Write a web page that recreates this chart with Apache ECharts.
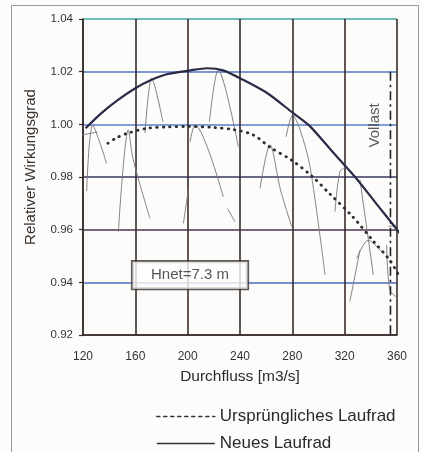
<!DOCTYPE html>
<html>
<head>
<meta charset="utf-8">
<script src="https://cdn.jsdelivr.net/npm/echarts@6/dist/echarts.min.js"></script>
<style>
html,body{margin:0;padding:0;background:#fcfcfa;}
#c{width:422px;height:452px;}
</style>
</head>
<body>
<div id="c"></div>
<script>
// ---- data ----
const xTicks = [120, 160, 200, 240, 280, 320, 360];
const yTicks = [0.92, 0.94, 0.96, 0.98, 1.00, 1.02, 1.04];

// Neues Laufrad (solid)
const neuQ   = [122, 133, 146, 160, 172, 184, 202, 215, 227, 242, 261, 280, 293, 310, 328, 344, 360, 365];
const neuEta = [0.9985, 1.0038, 1.009, 1.0137, 1.0168, 1.019, 1.0205, 1.0213, 1.0205, 1.017, 1.0118, 1.0045, 0.9995, 0.990, 0.980, 0.970, 0.960, 0.9565];

// Ursprüngliches Laufrad (dotted)
const altQ   = [139, 146, 154, 169, 185, 200, 220, 235, 250, 263, 280, 295, 309, 326, 342, 355, 365];
const altEta = [0.9928, 0.995, 0.9966, 0.9985, 0.999, 0.9992, 0.9988, 0.998, 0.996, 0.9913, 0.9862, 0.9803, 0.9734, 0.965, 0.9556, 0.948, 0.9393];

// Vollast
const vollastQ = 355;
const vollastEta = [1.02, 0.92];

// thin single-curve traces (Q, eta)
const kurve1 = [[122.8, 0.9746], [127.4, 0.9995], [138, 0.9852]];
const kurve2 = [[117.7, 0.9958], [131, 0.9971]];
const kurve3 = [[147, 0.9592], [154.6, 0.9979], [158.4, 0.9865], [171.2, 0.9643]];
const kurve4 = [[167.4, 0.9967], [172.5, 1.0175], [181.1, 1.001]];
const kurve5 = [[216.6, 1.001], [223.4, 1.0206], [238.7, 0.9915]];
const kurve6 = [[201.8, 0.9934], [205.6, 0.9998], [227.2, 0.9725]];
const kurve6b = [[230.5, 0.968], [236.2, 0.963]];
const kurve7 = [[200.5, 0.975], [196.7, 0.9624]];
const kurve8 = [[255.3, 0.9757], [262.9, 0.9922], [271, 0.975], [279.5, 0.9612]];
const kurve9 = [[275.2, 0.9953], [280.3, 1.0035], [285.9, 0.998], [293.5, 0.984], [305, 0.9428]];
const kurve10 = [[312.6, 0.9668], [316.4, 0.982], [321.5, 0.984]];
const kurve11 = [[324, 0.9327], [331.7, 0.9523]];
const kurve12 = [[329.2, 0.9491], [338, 0.956], [348.3, 0.9516]];
const kurve13 = [[331.7, 0.9789], [341.9, 0.9428]];
const kurve14 = [[352.1, 0.9542], [354.6, 0.937], [361, 0.934]];
const kurve15 = [[353.3, 0.9612], [360.8, 0.9618]];
const kurven = [kurve1, kurve2, kurve3, kurve4, kurve5, kurve6, kurve6b, kurve7, kurve8, kurve9, kurve10, kurve11, kurve12, kurve13, kurve14, kurve15];

// annotations
const hnetText = 'Hnet=7.3 m';
const hnetPos = [201.8, 0.9427];
const vollastText = 'Vollast';
const vollastLabelPos = [343.2, 0.9996];
const legendNames = ['Ursprüngliches Laufrad', 'Neues Laufrad'];

// ---- chart ----
const FONT = '"Liberation Sans", Arial, sans-serif';
const chart = echarts.init(document.getElementById('c'), null, {renderer: 'canvas'});

const thinSeries = kurven.map((k, i) => ({
  name: 'k' + i,
  type: 'line',
  data: k,
  symbol: 'none',
  smooth: 0.3,
  silent: true,
  lineStyle: {color: '#7a7474', width: 0.9},
  z: 1
}));

const legendCommon = {
  orient: 'vertical',
  left: 151,
  itemWidth: 58,
  itemHeight: 14,
  itemStyle: {opacity: 0},
  textStyle: {fontSize: 17, color: '#2a2a2a', fontFamily: FONT},
  selectedMode: false
};

const option = {
  backgroundColor: '#fcfcfa',
  animation: false,
  graphic: [{
    type: 'rect',
    shape: {x: 11.5, y: 5.5, width: 407, height: 460},
    style: {fill: 'none', stroke: '#9c9594', lineWidth: 1},
    silent: true
  }],
  grid: {left: 83, right: 25, top: 19, bottom: 117},
  legend: [
    Object.assign({}, legendCommon, {
      top: 403,
      data: [{name: legendNames[0], lineStyle: {width: 1.6, type: [3, 4], color: '#333'}}]
    }),
    Object.assign({}, legendCommon, {
      top: 430,
      data: [{name: legendNames[1], lineStyle: {width: 1.6, type: 'solid', color: '#333'}}]
    })
  ],
  xAxis: {
    type: 'value',
    min: xTicks[0],
    max: xTicks[xTicks.length - 1],
    interval: 40,
    name: 'Durchfluss [m3/s]',
    nameLocation: 'middle',
    nameGap: 34,
    nameTextStyle: {fontSize: 15.5, color: '#2a2a2a', fontFamily: FONT},
    axisLine: {show: true, lineStyle: {color: '#3a2c2c', width: 1.6}},
    axisTick: {show: false},
    axisLabel: {fontSize: 12, color: '#333', margin: 16, fontFamily: FONT},
    splitLine: {show: true, lineStyle: {color: '#3a2c2c', width: 1.6}}
  },
  yAxis: {
    type: 'value',
    min: yTicks[0],
    max: yTicks[yTicks.length - 1],
    interval: 0.02,
    name: 'Relativer Wirkungsgrad',
    nameLocation: 'middle',
    nameGap: 45,
    nameTextStyle: {fontSize: 15, color: '#3a3030', fontFamily: FONT, padding: [0, 0, 0, 20]},
    axisLine: {show: true, lineStyle: {color: '#3a2c2c', width: 1.6}},
    axisTick: {show: true, length: 4, lineStyle: {color: '#3a2c2c', width: 1.2}},
    axisLabel: {fontSize: 11.5, color: '#333', margin: 10, fontFamily: FONT,
      formatter: v => v.toFixed(2)},
    splitLine: {show: true, lineStyle: {
      color: ['#3a2d35', '#4d6cc0', '#4d3552', '#343a62', '#5a7ecf', '#4f78c8', '#45a8a0'],
      width: 1.6}}
  },
  series: [
    ...thinSeries,
    {
      name: legendNames[1],
      type: 'line',
      data: neuQ.map((q, i) => [q, neuEta[i]]),
      symbol: 'none',
      smooth: 0.25,
      clip: false,
      itemStyle: {color: '#2b2b48'},
      lineStyle: {color: '#2b2b48', width: 2.2},
      z: 5
    },
    {
      name: legendNames[0],
      type: 'line',
      data: altQ.map((q, i) => [q, altEta[i]]),
      symbol: 'none',
      smooth: 0.3,
      clip: false,
      itemStyle: {color: '#333'},
      lineStyle: {color: '#2e2e2e', width: 2.8, type: [0.5, 6], cap: 'round'},
      z: 5
    },
    {
      name: 'Vollast-Linie',
      type: 'line',
      data: vollastEta.map(e => [vollastQ, e]),
      symbol: 'none',
      lineStyle: {color: '#222', width: 1.6, type: [9, 4, 2.5, 4]},
      z: 4
    },
    {
      name: 'Vollast-Text',
      type: 'scatter',
      data: [vollastLabelPos],
      symbolSize: 0,
      silent: true,
      label: {show: true, formatter: vollastText, rotate: 90, position: 'inside',
        fontSize: 15, color: '#333', fontFamily: FONT},
      z: 6
    },
    {
      name: 'Hnet',
      type: 'scatter',
      data: [hnetPos],
      symbolSize: 0,
      silent: true,
      label: {show: true, formatter: hnetText, position: 'inside',
        fontSize: 15, color: '#2a2a2a', fontFamily: FONT,
        backgroundColor: '#fdfdfb', borderColor: '#3a3030', borderWidth: 1.6,
        width: 115, height: 17, lineHeight: 17, padding: [5, 0], align: 'center'},
      z: 10
    }
  ]
};
chart.setOption(option);
</script>
</body>
</html>
